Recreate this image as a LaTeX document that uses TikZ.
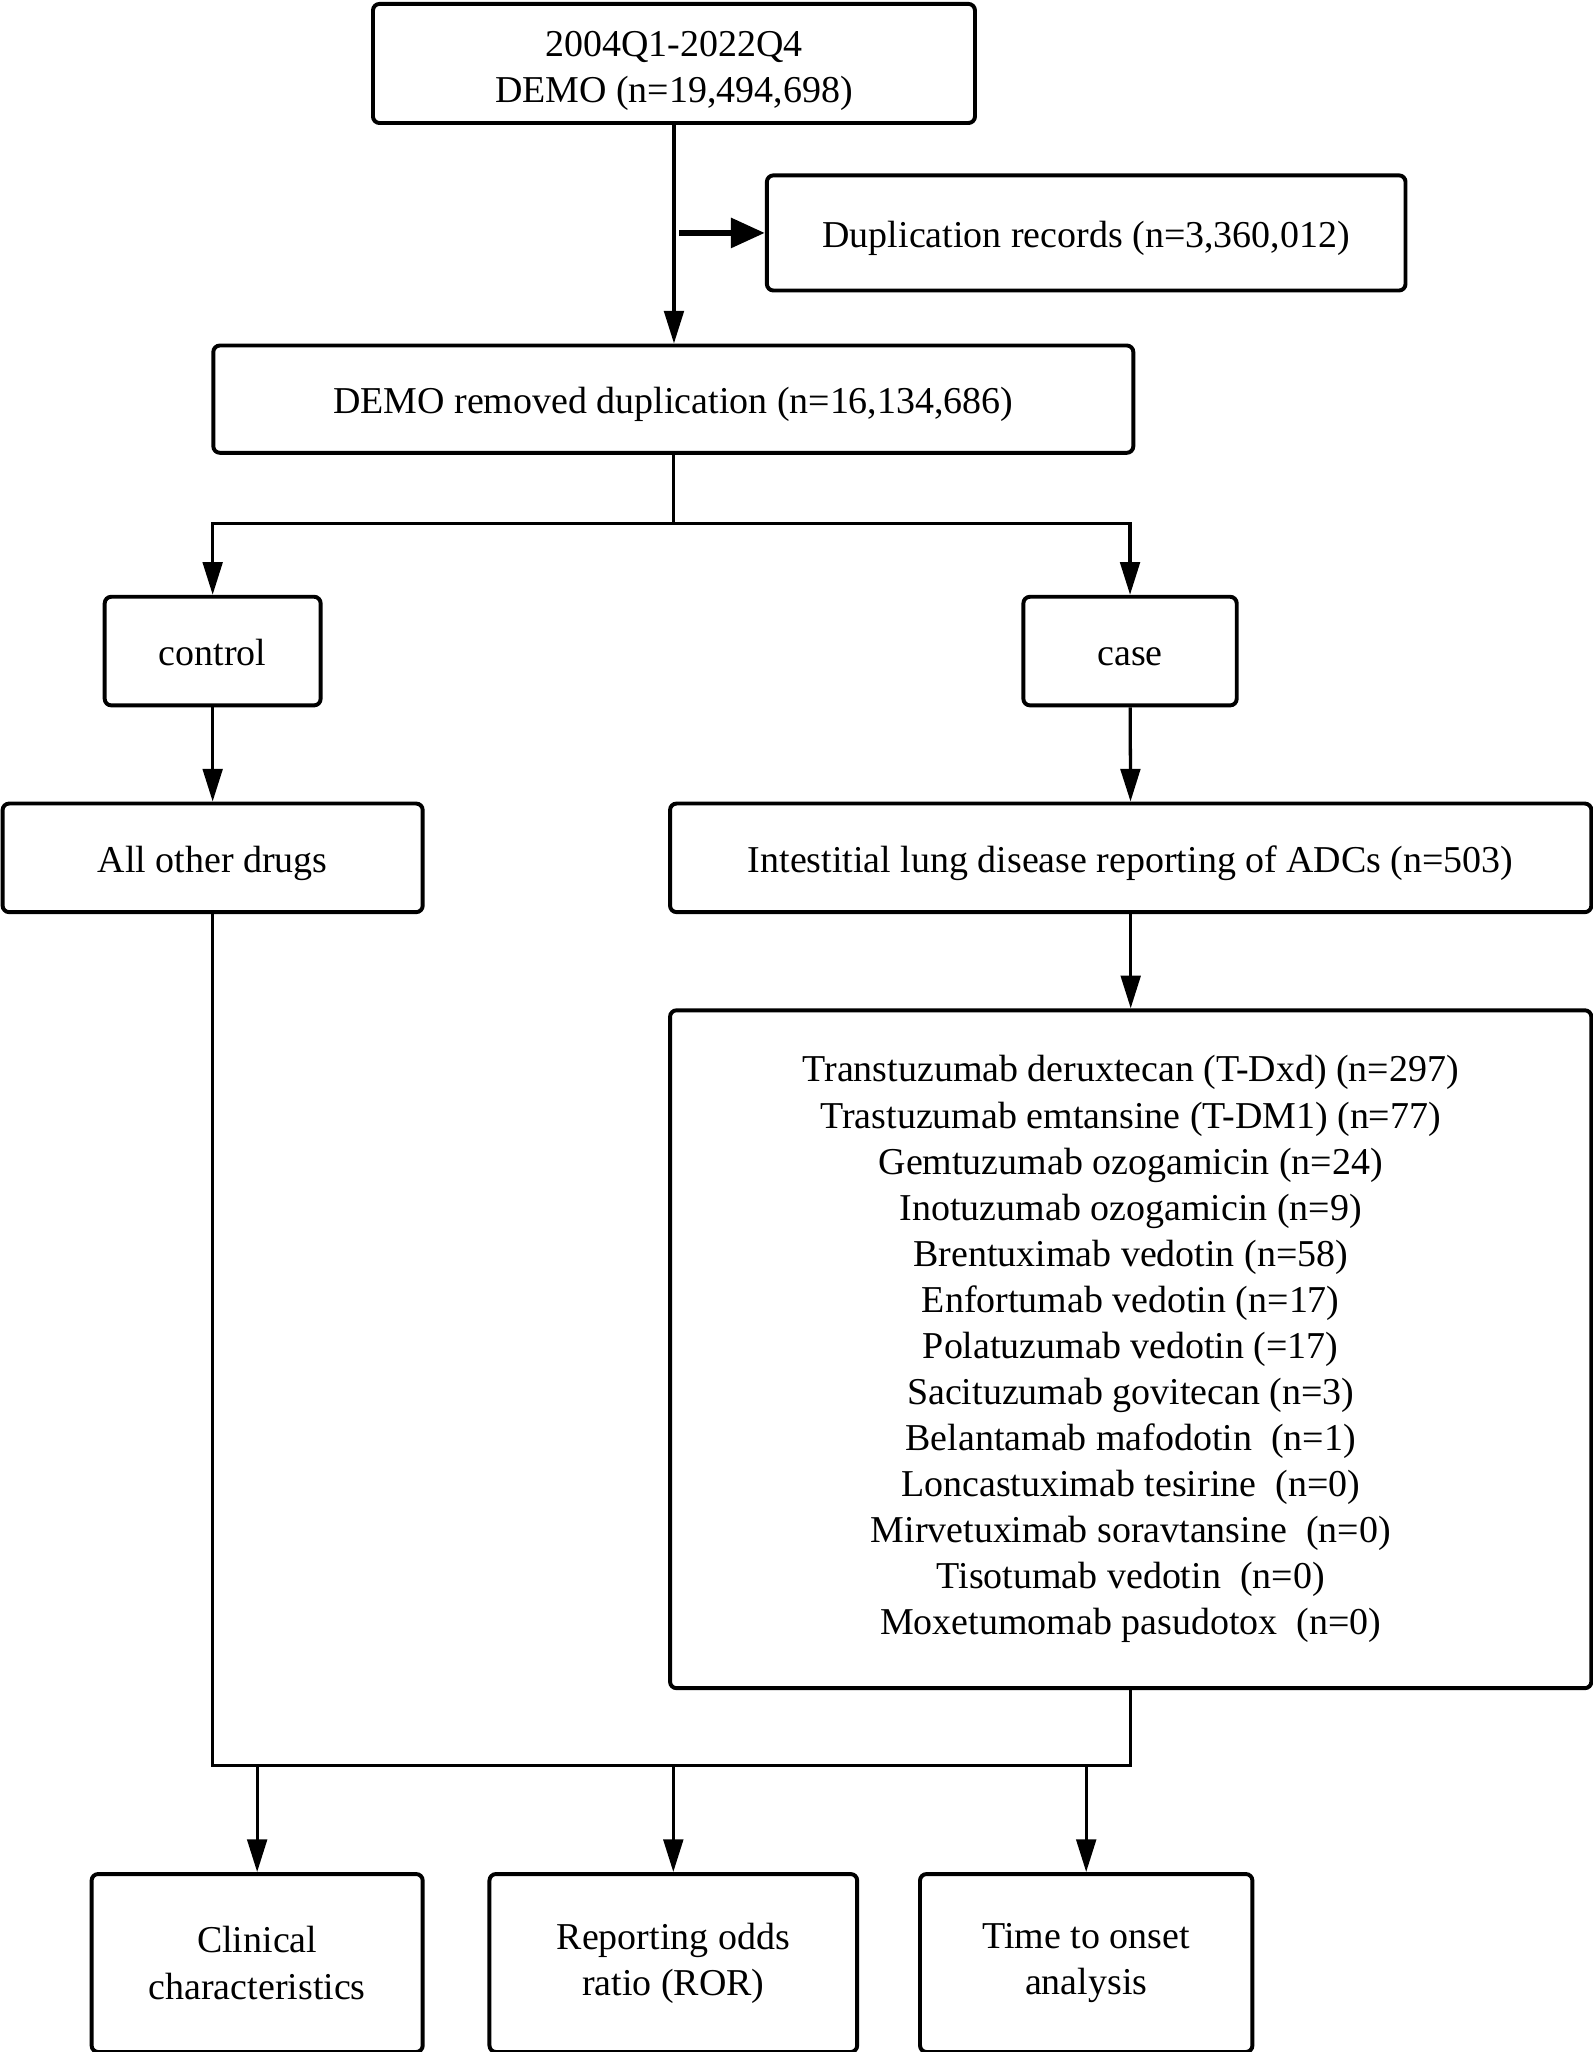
\documentclass[tikz,border=0pt]{standalone}
\usepackage{fontspec}
\setmainfont{Liberation Serif}
\usetikzlibrary{arrows.meta}
\usetikzlibrary{positioning}

\tikzset{
  box/.style={draw, line width=3pt, rounded corners=5pt, align=center, inner sep=0pt,
    font=\fontsize{29}{35.2}\selectfont},
  oneline/.style={text height=28.4pt, text depth=6.4pt},
  arr/.style={line width=2.5pt, -{Triangle[length=25pt, width=15pt]}},
  fatarr/.style={line width=5pt, -{Triangle[length=26pt, width=22pt]}},
  link/.style={line width=2.5pt}
}

\begin{document}
\begin{tikzpicture}[x=1pt, y=-1pt]
\useasboundingbox (0,0) rectangle (1217,1568);
% top part
\node[box, minimum width=460pt, minimum height=91pt] (all) at (515,48.5) {\rule{0pt}{31pt}2004Q1-2022Q4\\DEMO (n=19,494,698)};
\node[box, oneline, minimum width=488pt, minimum height=88pt] (dup) at (830,178) {Duplication records (n=3,360,012)};
\node[box, oneline, minimum width=703pt, minimum height=82pt] (clean) at (514.5,305) {DEMO removed duplication (n=16,134,686)};
\coordinate (side) at (519,178);
\draw[arr] (all.south) -- (all.south |- clean.north);
\draw[fatarr] (side) -- (side -| dup.west);
% control / case
\node[box, oneline, minimum width=165pt, minimum height=83pt] (control) at (162.5,497.5) {control};
\node[box, oneline, minimum width=163pt, minimum height=83pt] (case) at (863.5,497.5) {case};
\coordinate (split) at (514.5,400);
\draw[link] (clean.south) -- (split);
\draw[arr] (split) -| (control.north);
\draw[arr] (split) -| (case.north);
\node[box, oneline, minimum width=321pt, minimum height=83pt] (other) at (162.5,655.5) {All other drugs};
\node[box, oneline, minimum width=704pt, minimum height=83pt] (ild) at (864,655.5) {Intestitial lung disease reporting of ADCs (n=503)};
\draw[arr] (control) -- (other);
\draw[arr] (case) -- (ild);
% list of ADCs
\node[box, minimum width=704pt, minimum height=518pt] (adcs) at (864,1031) {%
Transtuzumab deruxtecan (T-Dxd) (n=297)\\
Trastuzumab emtansine (T-DM1) (n=77)\\
Gemtuzumab ozogamicin (n=24)\\
Inotuzumab ozogamicin (n=9)\\
Brentuximab vedotin (n=58)\\
Enfortumab vedotin (n=17)\\
Polatuzumab vedotin (=17)\\
Sacituzumab govitecan (n=3)\\
Belantamab mafodotin\ \ (n=1)\\
Loncastuximab tesirine\ \ (n=0)\\
Mirvetuximab soravtansine\ \ (n=0)\\
Tisotumab vedotin\ \ (n=0)\\
Moxetumomab pasudotox\ \ (n=0)};
\draw[arr] (ild) -- (adcs);
% analyses
\node[box, minimum width=253pt, minimum height=136pt] (clin) at (196.5,1500) {Clinical\\characteristics};
\node[box, minimum width=281pt, minimum height=136pt] (ror) at (514.5,1500) {Reporting odds\\ratio (ROR)};
\node[box, minimum width=254pt, minimum height=136pt] (tto) at (830,1500) {Time to onset\\analysis};
\coordinate (merge) at (514.5,1349);
\draw[link] (other.south) |- (adcs.south |- merge) -- (adcs.south);
\draw[arr] (clin.north |- merge) -- (clin.north);
\draw[arr] (merge) -- (ror.north);
\draw[arr] (tto.north |- merge) -- (tto.north);
\end{tikzpicture}
\end{document}
